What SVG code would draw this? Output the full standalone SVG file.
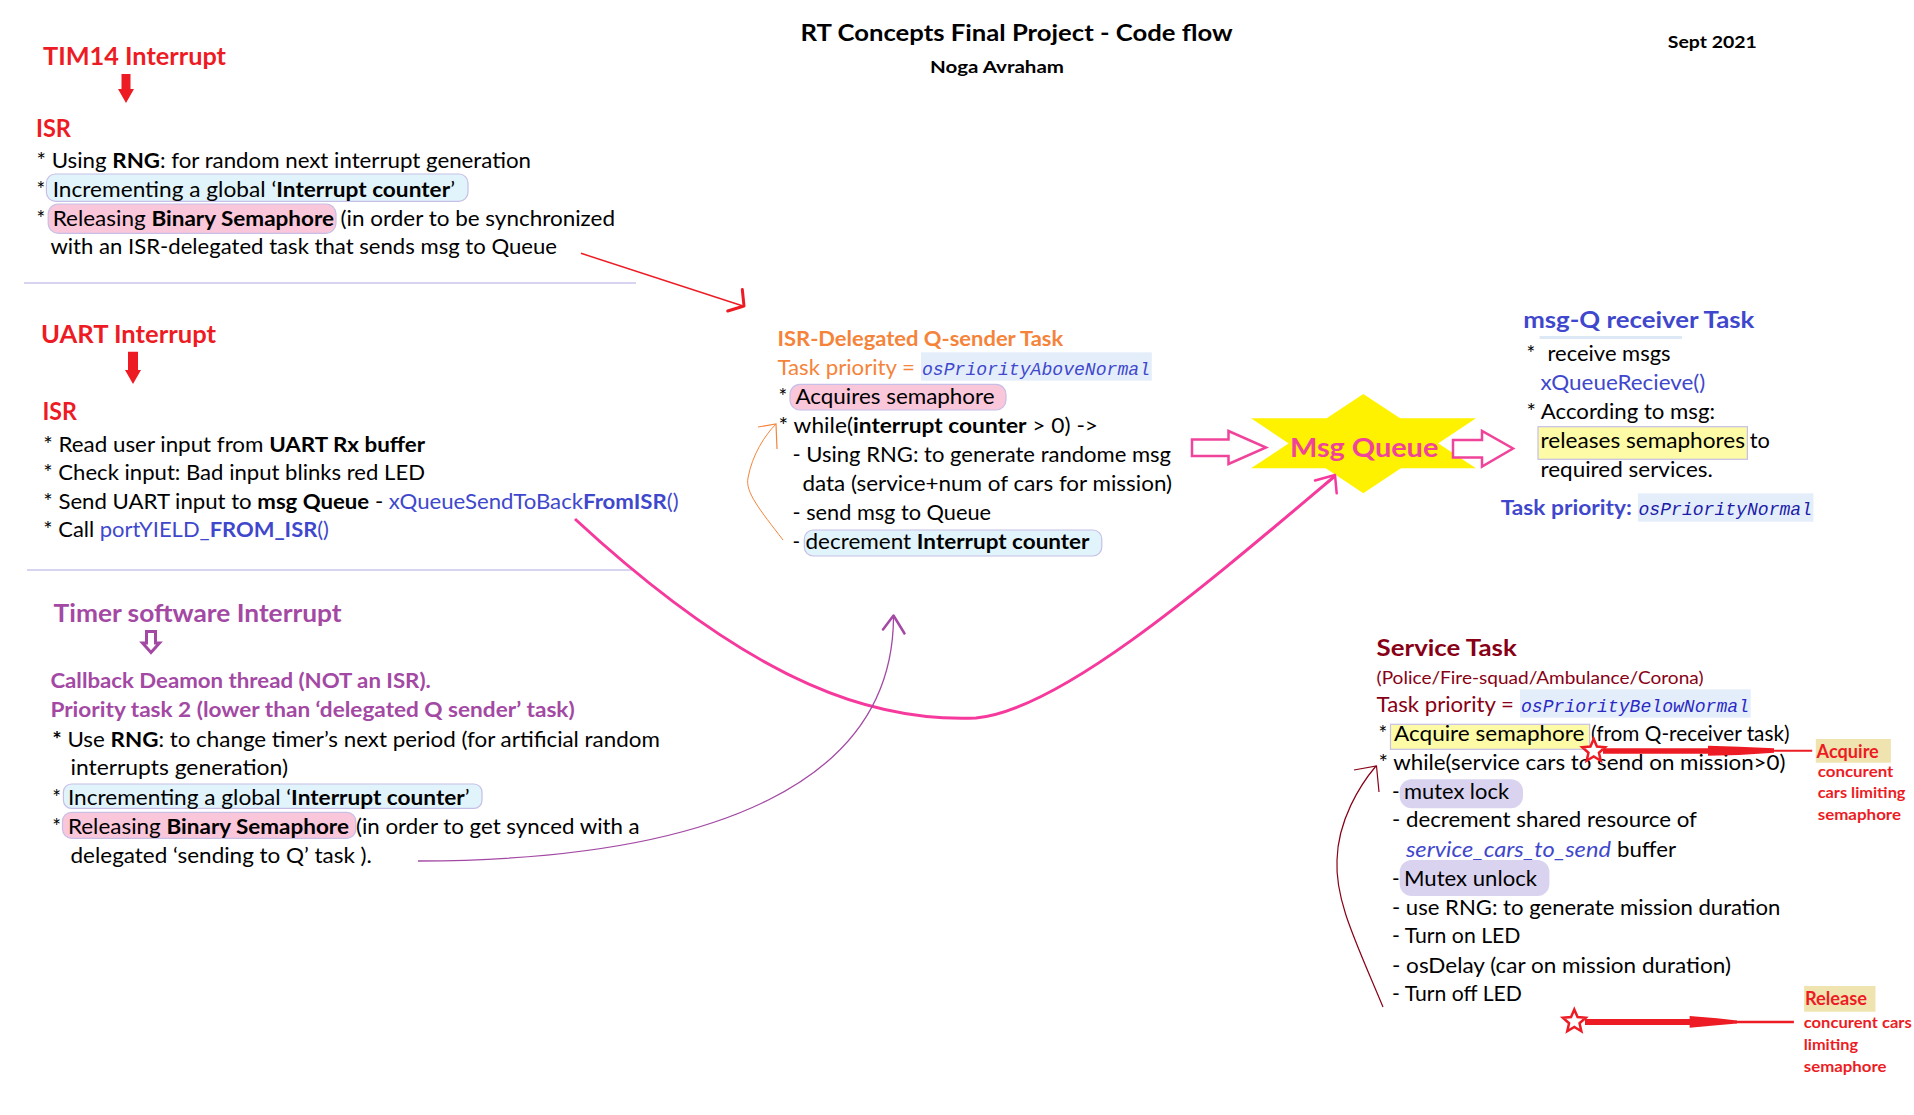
<svg xmlns="http://www.w3.org/2000/svg" width="1914" height="1115" viewBox="0 0 1914 1115">
<style>
text{font-family:Lato,"Open Sans","Liberation Sans",sans-serif;font-size:20.5px;fill:#000}
.b{font-weight:bold}
.h1{font-size:25px;font-weight:bold}
.h2{font-size:21.5px;font-weight:bold}
.red{fill:#ed1c24}
.pur{fill:#a349a4}
.org{fill:#f5843a}
.blu{fill:#3f48cc}
.dred{fill:#880015}
.navy{fill:#1c1ca8}
.pink{fill:#f0449b}
.code{font-family:"Liberation Mono","DejaVu Sans Mono",monospace;font-style:italic;font-size:18px}
.ann{font-size:15px;font-weight:bold;fill:#ed1c24}
.annh{font-size:18px;font-weight:bold;fill:#ed1c24}
.hl-blue{fill:#e1f4fb;stroke:#c7bfe6;stroke-width:1.2}
.hl-pink{fill:#f9c6da;stroke:#c7bfe6;stroke-width:1.2}
.hl-yel{fill:#fdfba6;stroke:#c7bfe6;stroke-width:1.2}
.hl-code{fill:#e4eefb}
.hl-mut{fill:#d9d3ef}
.hl-tan{fill:#efe4b0}
.sep{stroke:#c9c6e8;stroke-width:1.5;fill:none}
.hollow{fill:#fff;stroke:#f0449b;stroke-width:2.5}
.star{fill:#fff;stroke:#ed1c24;stroke-width:2.5}
</style>
<defs>
<path id="star5" d="M0 -12 L3.23 -4.45 L11.41 -3.71 L5.23 1.7 L7.05 9.71 L0 5.5 L-7.05 9.71 L-5.23 1.7 L-11.41 -3.71 L-3.23 -4.45 Z"/>
</defs>
<rect width="1914" height="1115" fill="#fff"/>

<g id="title">
<text class="b" x="800.6" y="40.7" style="font-size:23px" textLength="432" lengthAdjust="spacingAndGlyphs">RT Concepts Final Project - Code flow</text>
<text class="b" x="930" y="73.3" style="font-size:17px" textLength="134" lengthAdjust="spacingAndGlyphs">Noga Avraham</text>
<text class="b" x="1667.8" y="48.3" style="font-size:17px" textLength="89" lengthAdjust="spacingAndGlyphs">Sept 2021</text>
</g>

<g id="tim14-interrupt">
<text class="h1 red" x="43" y="64.5" textLength="183" lengthAdjust="spacingAndGlyphs">TIM14 Interrupt</text>
<path d="M121.5 74 H130.5 V89 H134 L126 103 L118 89 H121.5 Z" fill="#ed1c24"/>
<text class="h1 red" x="36" y="136.5" textLength="35" lengthAdjust="spacingAndGlyphs">ISR</text>
<text x="36.6" y="167.5" textLength="494.4" lengthAdjust="spacingAndGlyphs">* Using <tspan class="b">RNG</tspan>: for random next interrupt generation</text>
<rect class="hl-blue" x="46.4" y="174" width="421.6" height="27.3" rx="9"/>
<text x="36.6" y="196.5">*</text>
<text x="52.7" y="196.5" textLength="402.3" lengthAdjust="spacingAndGlyphs">Incrementing a global ‘<tspan class="b">Interrupt counter</tspan>’</text>
<rect class="hl-pink" x="48.2" y="204" width="287.8" height="29.3" rx="10"/>
<text x="36.6" y="225.5">*</text>
<text x="52.7" y="225.5" textLength="281.3" lengthAdjust="spacingAndGlyphs">Releasing <tspan class="b">Binary Semaphore</tspan></text>
<text x="340.6" y="225.5" textLength="274.4" lengthAdjust="spacingAndGlyphs">(in order to be synchronized</text>
<text x="50.4" y="254.3" textLength="506.6" lengthAdjust="spacingAndGlyphs">with an ISR-delegated task that sends msg to Queue</text>
</g>

<g id="separators">
<line class="sep" x1="24" y1="283" x2="636" y2="283"/>
<line class="sep" x1="27" y1="570" x2="632" y2="570"/>
</g>

<g id="uart-interrupt">
<text class="h1 red" x="41" y="343.3" style="font-size:24px" textLength="175" lengthAdjust="spacingAndGlyphs">UART Interrupt</text>
<path d="M128 351.7 H138 V370 H141 L133 384 L125 370 H128 Z" fill="#ed1c24"/>
<text class="h1 red" x="42.4" y="420" textLength="34.4" lengthAdjust="spacingAndGlyphs">ISR</text>
<text x="43.3" y="451.7" textLength="381.7" lengthAdjust="spacingAndGlyphs">* Read user input from <tspan class="b">UART Rx buffer</tspan></text>
<text x="43.3" y="480" textLength="381.7" lengthAdjust="spacingAndGlyphs">* Check input: Bad input blinks red LED</text>
<text x="43.3" y="509" textLength="635.3" lengthAdjust="spacingAndGlyphs">* Send UART input to <tspan class="b">msg Queue</tspan> - <tspan class="blu">xQueueSendToBack</tspan><tspan class="blu b">FromISR</tspan><tspan class="blu">()</tspan></text>
<text x="43.3" y="537.3" textLength="285.7" lengthAdjust="spacingAndGlyphs">* Call <tspan class="blu">portYIELD_</tspan><tspan class="blu b">FROM_ISR</tspan><tspan class="blu">()</tspan></text>
</g>

<g id="timer-software-interrupt">
<text class="h1 pur" x="53.6" y="621.7" style="font-size:24px" textLength="288" lengthAdjust="spacingAndGlyphs">Timer software Interrupt</text>
<path d="M146.5 631.5 H155.5 V643 H159.5 L151 652.5 L142.5 643 H146.5 Z" fill="#fff" stroke="#a349a4" stroke-width="3"/>
<text class="b pur" x="50.4" y="688.3" style="font-size:21px" textLength="380.4" lengthAdjust="spacingAndGlyphs">Callback Deamon thread (NOT an ISR).</text>
<text class="b pur" x="50.4" y="717.3" style="font-size:21px" textLength="524.2" lengthAdjust="spacingAndGlyphs">Priority task 2 (lower than ‘delegated Q sender’ task)</text>
<text x="52.2" y="746.7" textLength="607.6" lengthAdjust="spacingAndGlyphs"><tspan class="b">*</tspan> Use <tspan class="b">RNG</tspan>: to change timer’s next period (for artificial random</text>
<text x="70.5" y="775" textLength="217.5" lengthAdjust="spacingAndGlyphs">interrupts generation)</text>
<rect class="hl-blue" x="63.4" y="784" width="418.6" height="24.3" rx="8"/>
<text x="52.2" y="805">*</text>
<text x="67.9" y="805" textLength="401.7" lengthAdjust="spacingAndGlyphs">Incrementing a global ‘<tspan class="b">Interrupt counter</tspan>’</text>
<rect class="hl-pink" x="62.5" y="812.3" width="293.3" height="26" rx="9"/>
<text x="52.2" y="834">*</text>
<text x="67.9" y="834" textLength="281" lengthAdjust="spacingAndGlyphs">Releasing <tspan class="b">Binary Semaphore</tspan></text>
<text x="356" y="834" textLength="283.7" lengthAdjust="spacingAndGlyphs">(in order to get synced with a</text>
<text x="70.5" y="862.7" textLength="301.4" lengthAdjust="spacingAndGlyphs">delegated ‘sending to Q’ task ).</text>
</g>

<g id="isr-delegated-task">
<text class="h2 org" x="777.5" y="345.7" textLength="285.7" lengthAdjust="spacingAndGlyphs">ISR-Delegated Q-sender Task</text>
<text class="org" x="777.5" y="375" textLength="137.5" lengthAdjust="spacingAndGlyphs">Task priority = </text>
<rect class="hl-code" x="921" y="352.3" width="230.8" height="28.4"/>
<text class="code blu" x="922" y="375" textLength="228" lengthAdjust="spacingAndGlyphs">osPriorityAboveNormal</text>
<rect class="hl-pink" x="790" y="384.3" width="216" height="25.7" rx="10"/>
<text x="778.6" y="404.3">*</text>
<text x="795.4" y="404.3" textLength="199.2" lengthAdjust="spacingAndGlyphs">Acquires semaphore</text>
<text x="778.6" y="433.3" textLength="319.4" lengthAdjust="spacingAndGlyphs">* while(<tspan class="b">interrupt counter</tspan> &gt; 0)  -&gt;</text>
<text x="792.5" y="462.3" textLength="378.5" lengthAdjust="spacingAndGlyphs">- Using RNG: to generate randome msg</text>
<text x="802.5" y="490.7" textLength="369.5" lengthAdjust="spacingAndGlyphs">data (service+num of cars for mission)</text>
<text x="792.5" y="520" textLength="198.5" lengthAdjust="spacingAndGlyphs">- send msg to Queue</text>
<rect class="hl-blue" x="804.3" y="530" width="297.5" height="26" rx="9"/>
<text x="792.5" y="549.3">-</text>
<text x="805.5" y="549.3" textLength="284" lengthAdjust="spacingAndGlyphs">decrement <tspan class="b">Interrupt counter</tspan></text>
</g>

<g id="msg-queue">
<polygon points="1363.3,394 1476,468.3 1251,468.3" fill="#fff200"/>
<polygon points="1363.3,493.3 1251,418.3 1476,418.3" fill="#fff200"/>
<path class="hollow" d="M1192 439.5 H1228.5 V431 L1266 447.5 L1228.5 464 V456 H1192 Z"/>
<path class="hollow" d="M1453 440 H1482 V431 L1513 448.5 L1482 466.5 V457.5 H1453 Z"/>
<text class="b pink" x="1290" y="457.3" style="font-size:26.5px" textLength="148.3" lengthAdjust="spacingAndGlyphs">Msg Queue</text>
</g>

<g id="msgq-receiver-task">
<text class="b blu" x="1523.2" y="327.7" style="font-size:22px" textLength="231.2" lengthAdjust="spacingAndGlyphs">msg-Q receiver Task</text>
<rect x="1539.6" y="336" width="142.3" height="3" fill="#dde8f6"/>
<text x="1526.4" y="361">*</text>
<text x="1547.5" y="361" textLength="123.1" lengthAdjust="spacingAndGlyphs">receive msgs</text>
<text class="blu" x="1540.5" y="390" textLength="164.8" lengthAdjust="spacingAndGlyphs">xQueueRecieve()</text>
<text x="1526.4" y="419" textLength="188.6" lengthAdjust="spacingAndGlyphs">* According to msg:</text>
<rect class="hl-yel" x="1538" y="426.7" width="209.4" height="32.6"/>
<text x="1540.5" y="448.3" textLength="204.5" lengthAdjust="spacingAndGlyphs">releases semaphores</text>
<text x="1749.8" y="448.3" textLength="20.1" lengthAdjust="spacingAndGlyphs">to</text>
<text x="1540.5" y="476.7" textLength="172.3" lengthAdjust="spacingAndGlyphs">required services.</text>
<text class="b blu" x="1500.7" y="515" textLength="131.1" lengthAdjust="spacingAndGlyphs">Task priority:</text>
<rect class="hl-code" x="1637.9" y="493.3" width="175.5" height="28.4"/>
<text class="code navy" x="1638.5" y="515" textLength="173.5" lengthAdjust="spacingAndGlyphs">osPriorityNormal</text>
</g>

<g id="service-task">
<text class="b dred" x="1376.6" y="656" style="font-size:23px" textLength="140.2" lengthAdjust="spacingAndGlyphs">Service Task</text>
<text class="dred" x="1376.6" y="684" style="font-size:18px" textLength="326.9" lengthAdjust="spacingAndGlyphs">(Police/Fire-squad/Ambulance/Corona)</text>
<text class="dred" x="1376.6" y="711.7" textLength="137.3" lengthAdjust="spacingAndGlyphs">Task priority = </text>
<rect class="hl-code" x="1520" y="689.3" width="230.7" height="28.4"/>
<text class="code" x="1521" y="711.7" style="fill:#2b2bc4" textLength="228" lengthAdjust="spacingAndGlyphs">osPriorityBelowNormal</text>
<rect class="hl-yel" x="1390.5" y="724.3" width="199.1" height="25"/>
<text x="1378.4" y="740.7">*</text>
<text x="1394" y="740.7" textLength="190.5" lengthAdjust="spacingAndGlyphs">Acquire semaphore</text>
<text x="1591" y="740.7" textLength="198.5" lengthAdjust="spacingAndGlyphs">(from Q-receiver task)</text>
<text x="1378.4" y="770" textLength="407.1" lengthAdjust="spacingAndGlyphs">* while(service cars to send on mission&gt;0)</text>
<rect class="hl-mut" x="1399.7" y="779.3" width="123.3" height="29" rx="12"/>
<text x="1392" y="799">-</text>
<text x="1404" y="799" textLength="105" lengthAdjust="spacingAndGlyphs">mutex lock</text>
<text x="1392" y="827.3" textLength="304.9" lengthAdjust="spacingAndGlyphs">- decrement shared resource of</text>
<text class="blu" x="1405.9" y="856.7" style="font-style:italic" textLength="205" lengthAdjust="spacingAndGlyphs">service_cars_to_send</text>
<text x="1617" y="856.7" textLength="59" lengthAdjust="spacingAndGlyphs">buffer</text>
<rect class="hl-mut" x="1399.7" y="860" width="149.7" height="36" rx="12"/>
<text x="1392" y="885.7">-</text>
<text x="1404" y="885.7" textLength="133" lengthAdjust="spacingAndGlyphs">Mutex unlock</text>
<text x="1392" y="915" textLength="388.3" lengthAdjust="spacingAndGlyphs">- use RNG: to generate mission duration</text>
<text x="1392" y="943.3" textLength="128.5" lengthAdjust="spacingAndGlyphs">- Turn on LED</text>
<text x="1392" y="972.7" textLength="338.9" lengthAdjust="spacingAndGlyphs">- osDelay (car on mission duration)</text>
<text x="1392" y="1001" textLength="130" lengthAdjust="spacingAndGlyphs">- Turn off LED</text>
</g>

<g id="acquire-note">
<rect class="hl-tan" x="1815.8" y="739" width="75.1" height="23.7"/>
<text class="annh" x="1816.6" y="757.7" textLength="62.2" lengthAdjust="spacingAndGlyphs">Acquire</text>
<text class="ann" x="1817.7" y="776.7" textLength="75.7" lengthAdjust="spacingAndGlyphs">concurent</text>
<text class="ann" x="1817.7" y="798.3" textLength="87.8" lengthAdjust="spacingAndGlyphs">cars limiting</text>
<text class="ann" x="1817.7" y="820" textLength="83.3" lengthAdjust="spacingAndGlyphs">semaphore</text>
</g>

<g id="release-note">
<rect class="hl-tan" x="1804.1" y="986" width="71.4" height="25.7"/>
<text class="annh" x="1804.9" y="1005" textLength="62.1" lengthAdjust="spacingAndGlyphs">Release</text>
<text class="ann" x="1803.8" y="1028.3" textLength="107.9" lengthAdjust="spacingAndGlyphs">concurent cars</text>
<text class="ann" x="1803.8" y="1050" textLength="54.2" lengthAdjust="spacingAndGlyphs">limiting</text>
<text class="ann" x="1803.8" y="1072.3" textLength="82.7" lengthAdjust="spacingAndGlyphs">semaphore</text>
</g>

<g id="connectors" fill="none">
<!-- ISR (TIM14) to delegated task -->
<path d="M581 253.3 L743 306" stroke="#ed1c24" stroke-width="1.5"/>
<path d="M742.3 289.5 L744 306 L727.7 311" stroke="#ed1c24" stroke-width="3" stroke-linecap="round" stroke-linejoin="round"/>
<!-- UART ISR to Msg Queue -->
<path d="M575 519 C760 690 880 722 976 718 C1060 710 1200 590 1335 476" stroke="#f6399c" stroke-width="3"/>
<path d="M1315 480.5 L1335 475 L1336.7 493.3" stroke="#f6399c" stroke-width="2.5" stroke-linecap="round" stroke-linejoin="round"/>
<!-- Timer callback to delegated task -->
<path d="M418 861 C720 860 893 780 893.5 617" stroke="#a349a4" stroke-width="1.3"/>
<path d="M883 629.5 L893.5 615.5 L904.5 633.5" stroke="#a349a4" stroke-width="2.5" stroke-linecap="round" stroke-linejoin="round"/>
<!-- Delegated task loop -->
<path d="M783 540 C760 510 745 492 748 478 C752 455 765 435 776 424" stroke="#f5843a" stroke-width="1"/>
<path d="M758 427 L776 424 L777 449" stroke="#f5843a" stroke-width="1.2"/>
<!-- Service task loop -->
<path d="M1383 1007 C1355 940 1335 900 1337 860 C1338 820 1360 785 1376 766" stroke="#880015" stroke-width="1.2"/>
<path d="M1354 770 L1376.5 766 L1379 792" stroke="#880015" stroke-width="1.2"/>
<!-- Acquire arrow -->
<line x1="1812.2" y1="750.7" x2="1772" y2="750.7" stroke="#ed1c24" stroke-width="2"/>
<polygon points="1774,748.3 1739,746.7 1708,745.7 1708,755.7 1739,755 1774,752.7" fill="#ed1c24"/>
<line x1="1709" y1="751" x2="1603" y2="751" stroke="#ed1c24" stroke-width="5.7"/>
<use href="#star5" class="star" x="1593.7" y="751"/>
<!-- Release arrow -->
<line x1="1793.9" y1="1022" x2="1735" y2="1022" stroke="#ed1c24" stroke-width="2.7"/>
<polygon points="1737,1020.5 1717,1018.3 1689.6,1016 1689.6,1027.7 1717,1025.3 1737,1023.5" fill="#ed1c24"/>
<line x1="1690.6" y1="1022" x2="1585" y2="1022" stroke="#ed1c24" stroke-width="6"/>
<use href="#star5" class="star" x="1574.3" y="1021.5"/>
</g>
</svg>
